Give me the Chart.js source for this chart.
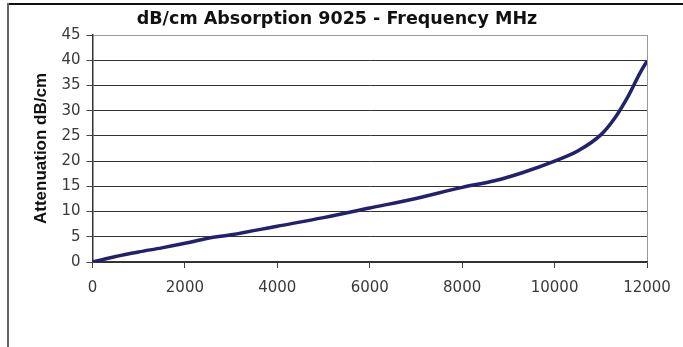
<!DOCTYPE html>
<html>
<head>
<meta charset="utf-8">
<script src="https://cdn.jsdelivr.net/npm/chart.js@4"></script>
<style>
    body { margin: 0; background: #fff; }
    #wrap { position: relative; width: 683px; height: 347px; overflow: hidden; background: #fff; }
    #topline { position: absolute; left: 7px; top: 3px; width: 676px; height: 0; border-top: 2px solid #111; z-index: 2; }
    #leftline { position: absolute; left: 7px; top: 3px; width: 0; height: 344px; border-left: 2px solid #666; z-index: 2; }
    #chart { position: absolute; left: 0; top: 0; z-index: 1; }
</style>
</head>
<body>
<div id="wrap">
    <canvas id="chart" width="683" height="347"></canvas>
    <div id="topline"></div>
    <div id="leftline"></div>
</div>
<script>
// Frequency (MHz) vs attenuation (dB/cm)
const frequency = [0, 500, 1000, 1500, 2000, 2500, 3000, 4000, 5000, 6000, 7000, 8000, 8700, 9300, 10000, 10500, 11000, 11300, 11600, 11850, 12000];
const attenuation = [0, 1.1, 2.0, 2.8, 3.7, 4.7, 5.4, 7.1, 8.8, 10.7, 12.6, 14.8, 16.1, 17.7, 20.0, 22.0, 25.2, 28.5, 33.0, 37.5, 39.8];
const yTicks = [0, 5, 10, 15, 20, 25, 30, 35, 40, 45];
const xTicks = [0, 2000, 4000, 6000, 8000, 10000, 12000];

const points = frequency.map((f, i) => ({ x: f, y: attenuation[i] }));

new Chart(document.getElementById('chart'), {
    type: 'line',
    data: {
        datasets: [{
            label: 'dB/cm', data: points,
            borderColor: '#23216e', borderWidth: 3.5,
            pointRadius: 0, fill: false,
            cubicInterpolationMode: 'monotone'
        }]
    },
    options: {
        responsive: false, animation: false,
        layout: { padding: { left: 27, right: 36, top: 9, bottom: 39 } },
        plugins: {
            legend: { display: false },
            tooltip: { enabled: false },
            title: {
                display: true, text: 'dB/cm Absorption 9025 - Frequency MHz',
                color: '#111', font: { family: 'DejaVu Sans', size: 17.5, weight: 'bold' },
                padding: { top: 0, bottom: 5 }
            }
        },
        scales: {
            x: {
                type: 'linear', min: 0, max: 12000,
                afterBuildTicks: axis => { axis.ticks = xTicks.map(v => ({ value: v })); },
                ticks: { color: '#3a3a3a', font: { family: 'DejaVu Sans', size: 15 }, padding: 11, maxRotation: 0,
                         callback: v => String(v) },
                grid: {
                    drawOnChartArea: true, tickLength: 6,
                    color: ctx => ctx.tick && ctx.tick.value === 12000 ? '#999' : 'rgba(0,0,0,0)',
                    tickColor: '#444'
                },
                border: { color: '#333', width: 1.5 }
            },
            y: {
                min: 0, max: 45,
                afterBuildTicks: axis => { axis.ticks = yTicks.map(v => ({ value: v })); },
                ticks: { color: '#3a3a3a', font: { family: 'DejaVu Sans', size: 15 }, padding: 6,
                         callback: v => String(v) },
                title: {
                    display: true, text: 'Attenuation dB/cm', color: '#111',
                    font: { family: 'Liberation Sans', size: 17, weight: 'bold' }, padding: 4
                },
                grid: {
                    tickLength: 6,
                    color: ctx => ctx.tick && ctx.tick.value === 45 ? '#999' : '#333',
                    tickColor: '#444'
                },
                border: { color: '#333', width: 1.5 }
            }
        }
    }
});
</script>
</body>
</html>
